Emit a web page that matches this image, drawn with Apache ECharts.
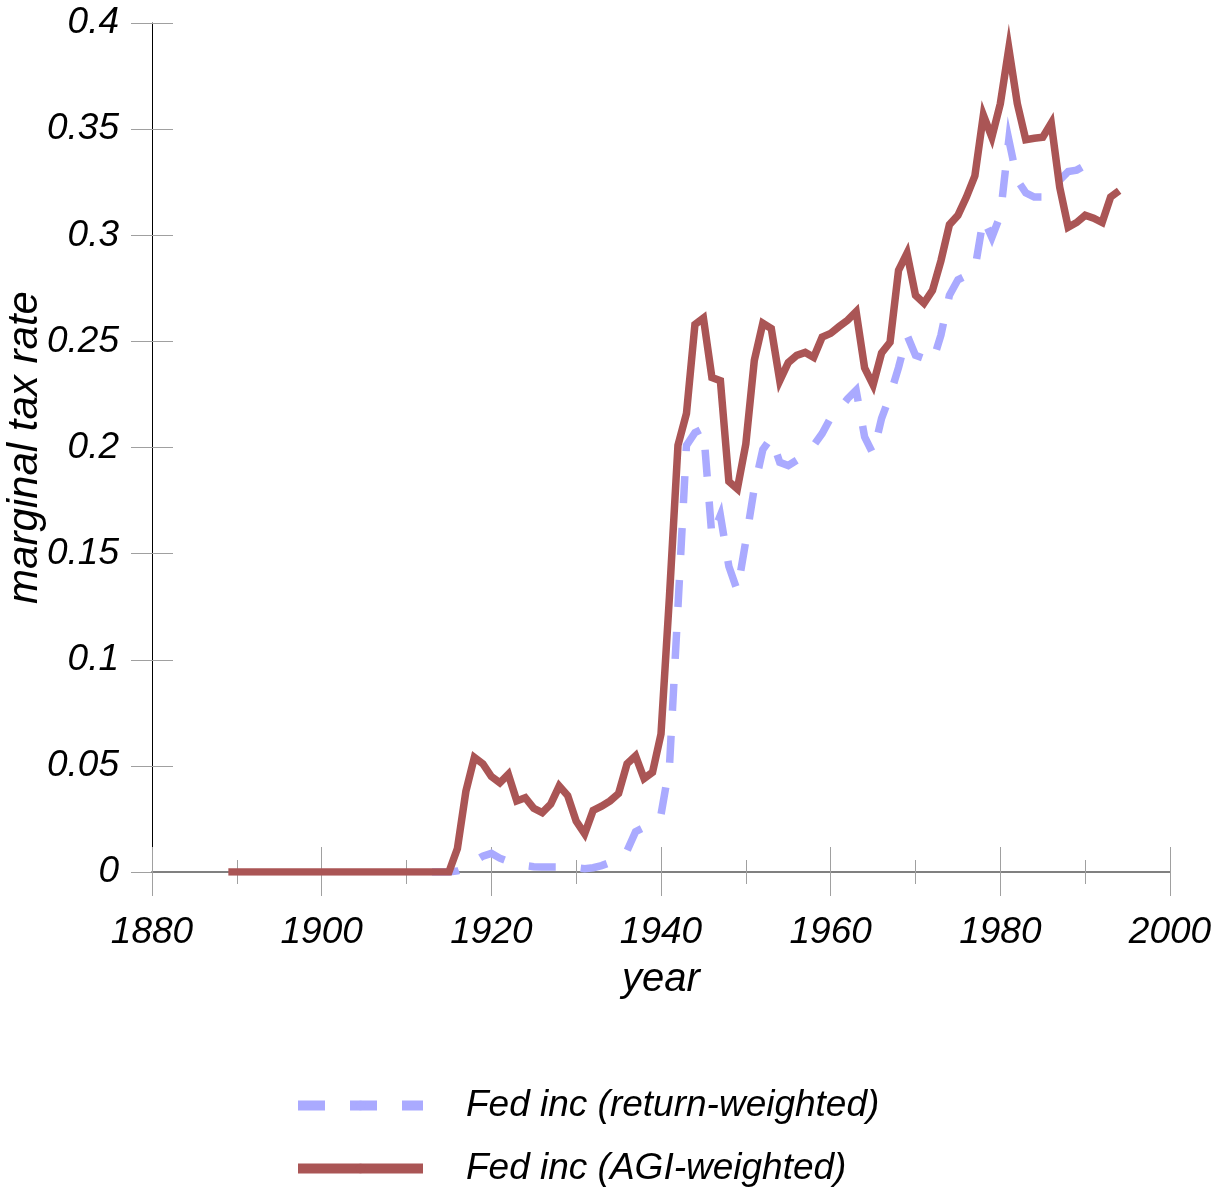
<!DOCTYPE html>
<html>
<head>
<meta charset="utf-8">
<script src="https://cdn.jsdelivr.net/npm/echarts@6/dist/echarts.min.js"></script>
<style>
html,body{margin:0;padding:0;background:#fff;}
#chart{width:1225px;height:1191px;}
</style>
</head>
<body>
<div id="chart"></div>
<script>
// ---- data ----
var agiYears = [];
for (var y = 1889; y <= 1994; y++) agiYears.push(y);
var agiValues = [
  // 1889-1914
  0,0,0,0,0,0,0,0,0,0, 0,0,0,0,0,0,0,0,0,0, 0,0,0,0,0,0,
  // 1915-1939
  0, 0.011, 0.038, 0.054, 0.051, 0.045, 0.042, 0.046, 0.0335, 0.035,
  0.030, 0.028, 0.032, 0.0405, 0.036, 0.024, 0.018, 0.029, 0.031, 0.0335,
  0.037, 0.051, 0.0547, 0.044, 0.047,
  // 1940-1964
  0.065, 0.13, 0.201, 0.216, 0.258, 0.261, 0.233, 0.2315, 0.184, 0.1805,
  0.2017, 0.241, 0.2585, 0.256, 0.2315, 0.240, 0.2434, 0.2448, 0.2425, 0.252,
  0.2538, 0.257, 0.260, 0.264, 0.2375,
  // 1965-1994
  0.2295, 0.2445, 0.2496, 0.2835, 0.2915, 0.2717, 0.268, 0.274, 0.288, 0.305,
  0.3094, 0.318, 0.328, 0.3566, 0.3462, 0.362, 0.388, 0.362, 0.345, 0.3457,
  0.3462, 0.3528, 0.3226, 0.3038, 0.306, 0.3094, 0.308, 0.306, 0.318, 0.321
];
var retYears = [];
for (var y2 = 1913; y2 <= 1991; y2++) retYears.push(y2);
var retValues = [
  // 1913-1939
  0, 0, 0, 0.0005, 0.002, 0.005, 0.0075, 0.0088, 0.0065, 0.005,
  0.004, 0.003, 0.0025, 0.0024, 0.0024, 0.0024, 0.0024, 0.002, 0.0015, 0.002,
  0.003, 0.0045, 0.006, 0.010, 0.019, 0.021, 0.023,
  // 1940-1964
  0.027, 0.05, 0.125, 0.201, 0.207, 0.209, 0.158, 0.168, 0.144, 0.1325,
  0.156, 0.181, 0.199, 0.2047, 0.193, 0.1915, 0.194, 0.1976, 0.201, 0.2066,
  0.214, 0.218, 0.223, 0.227, 0.205,
  // 1965-1991
  0.197, 0.2137, 0.2245, 0.2377, 0.253, 0.2434, 0.242, 0.240, 0.253, 0.2717,
  0.279, 0.281, 0.284, 0.308, 0.299, 0.3094, 0.345, 0.326, 0.320, 0.318,
  0.318, 0.321, 0.326, 0.330, 0.3307, 0.333, 0.332
];
var seriesNames = ['Fed inc (return-weighted)', 'Fed inc (AGI-weighted)'];
var xTitle = 'year';
var yTitle = 'marginal tax rate';

function pairs(xs, vs) { return xs.map(function (x, i) { return [x, vs[i]]; }); }

var FONT = "'Liberation Sans', Arial, sans-serif";
var chart = echarts.init(document.getElementById('chart'), null, {renderer: 'canvas'});
chart.setOption({
  animation: false,
  backgroundColor: '#fff',
  grid: {left: 152, right: 55, top: 23, bottom: 319, containLabel: false, outerBoundsMode: 'none'},
  legend: {
    orient: 'vertical', left: 293, top: 1087, padding: 0, itemGap: 26,
    itemWidth: 125, itemHeight: 12,
    data: seriesNames,
    lineStyle: {width: 10},
    textStyle: {fontFamily: FONT, fontStyle: 'italic', fontSize: 37, color: '#000', padding: [0, 0, 0, 38]}
  },
  xAxis: [{
    type: 'value', min: 1880, max: 2000, interval: 20, position: 'bottom', z: 3,
    name: xTitle, nameLocation: 'middle', nameGap: 88, nameMoveOverlap: false,
    nameTextStyle: {fontFamily: FONT, fontStyle: 'italic', fontSize: 40, color: '#000'},
    axisLine: {show: true, onZero: false, lineStyle: {color: '#808080', width: 2}},
    axisTick: {show: true, inside: false, length: 24, lineStyle: {color: '#a0a0a0', width: 1}},
    minorTick: {show: true, splitNumber: 2, length: 12, lineStyle: {color: '#a0a0a0', width: 1}},
    axisLabel: {fontFamily: FONT, fontStyle: 'italic', fontSize: 37, color: '#000', margin: 42,
      formatter: function (v) { return String(v); }},
    splitLine: {show: false}
  }, {
    type: 'value', min: 1880, max: 2000, interval: 20, position: 'bottom', z: 3,
    axisLine: {show: false, onZero: false},
    axisTick: {show: true, inside: true, length: 25, lineStyle: {color: '#a0a0a0', width: 1}},
    minorTick: {show: true, splitNumber: 2, length: 12, lineStyle: {color: '#a0a0a0', width: 1}},
    axisLabel: {show: false},
    splitLine: {show: false}
  }],
  yAxis: [{
    type: 'value', min: 0, max: 0.4, interval: 0.05, position: 'left', z: 1,
    name: yTitle, nameLocation: 'middle', nameGap: 106, nameRotate: 90, nameMoveOverlap: false,
    nameTextStyle: {fontFamily: FONT, fontStyle: 'italic', fontSize: 42, color: '#000'},
    axisLine: {show: true, onZero: false, lineStyle: {color: '#000', width: 1}},
    axisTick: {show: true, inside: false, length: 21, lineStyle: {color: '#a0a0a0', width: 1}},
    axisLabel: {fontFamily: FONT, fontStyle: 'italic', fontSize: 37, color: '#000', margin: 33},
    splitLine: {show: false}
  }, {
    type: 'value', min: 0, max: 0.4, interval: 0.05, position: 'left', z: 1,
    axisLine: {show: false, onZero: false},
    axisTick: {show: true, inside: true, length: 21, lineStyle: {color: '#a0a0a0', width: 1}},
    axisLabel: {show: false},
    splitLine: {show: false}
  }],
  series: [{
    name: seriesNames[0], type: 'line', xAxisIndex: 0, yAxisIndex: 0, z: 4,
    showSymbol: false, symbol: 'none',
    data: pairs(retYears, retValues),
    lineStyle: {color: '#aaaaff', width: 7.5, type: [27, 25], cap: 'butt', join: 'miter'},
    itemStyle: {color: '#aaaaff'}
  }, {
    name: seriesNames[1], type: 'line', xAxisIndex: 0, yAxisIndex: 0, z: 5,
    showSymbol: false, symbol: 'none',
    data: pairs(agiYears, agiValues),
    lineStyle: {color: '#aa5555', width: 7.5, cap: 'butt', join: 'miter'},
    itemStyle: {color: '#aa5555'}
  }]
});
</script>
</body>
</html>
